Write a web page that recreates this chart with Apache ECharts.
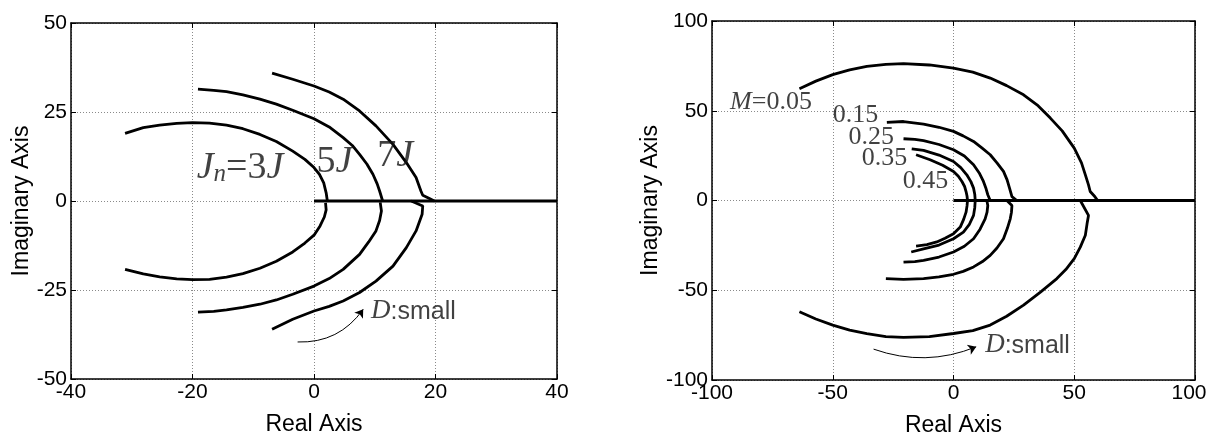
<!DOCTYPE html>
<html>
<head>
<meta charset="utf-8">
<title>Root locus</title>
<script src="https://cdn.jsdelivr.net/npm/echarts/dist/echarts.min.js"></script>
<style>
  html, body { margin: 0; padding: 0; background: #fff; }
  #main { width: 1208px; height: 432px; }
</style>
</head>
<body>
<div id="main"></div>
<script>
// left panel: loci for Jn = 3J, 5J, 7J  [real, imag]
var j3Upper = [[-31.1,19.0],[-28.1,20.6],[-25.4,21.3],[-22.6,21.8],[-20.0,22.0],[-17.2,21.9],[-14.4,21.3],[-11.7,20.3],[-8.9,18.7],[-6.2,16.7],[-3.5,14.0],[-1.5,11.7],[0,9.4],[0.9,7.5],[1.6,5.1],[2.0,2.3],[2.2,0]];
var j3Lower = [[1.9,-0.5],[2.0,-2.5],[1.7,-4.5],[1.0,-7.0],[0,-9.6],[-1.5,-11.8],[-3.5,-14.3],[-6.2,-16.9],[-8.9,-18.9],[-11.7,-20.4],[-14.4,-21.4],[-17.2,-22.0],[-20.0,-22.1],[-22.6,-21.9],[-25.4,-21.3],[-28.1,-20.5],[-31.1,-19.2]];
var j5Upper = [[-19.1,31.4],[-16.5,31.1],[-14.4,30.7],[-11.7,29.8],[-8.9,28.6],[-6.2,27.2],[-3.5,25.5],[0,23.1],[2.5,20.8],[4.8,17.8],[6.3,15.6],[7.5,13.1],[8.7,10.4],[9.7,7.5],[10.4,4.8],[10.8,2.8],[11.3,0]];
var j5Lower = [[10.9,-0.4],[11.1,-2.8],[10.8,-5.5],[10.2,-8.4],[9.0,-11.5],[7.5,-15.0],[4.8,-19.2],[2.5,-21.8],[0,-23.9],[-3.5,-26.2],[-6.2,-27.8],[-8.9,-29.0],[-11.7,-29.9],[-14.4,-30.6],[-16.5,-31.0],[-19.1,-31.2]];
var j7Upper = [[-6.9,35.9],[-3.5,34.2],[0,32.3],[2.5,30.6],[4.8,28.6],[7.5,25.3],[10.2,21.1],[13.0,15.9],[15.2,10.8],[16.8,6.6],[17.6,2.8],[17.9,1.6],[19.0,0.7],[19.8,0]];
var j7Lower = [[16.0,0],[17.9,-1.4],[17.8,-3.7],[16.8,-8.4],[15.2,-13.1],[13.0,-18.3],[10.2,-22.5],[7.5,-25.7],[4.8,-28.1],[2.5,-29.6],[0,-30.9],[-3.5,-33.2],[-6.9,-36.0]];
var realAxisLeft = [[0,0],[40,0]];

// right panel: loci for M = 0.05 ... 0.45
var m05Upper = [[-63.8,62.3],[-57,66.5],[-50,70.1],[-43,72.8],[-35.9,74.7],[-28,75.8],[-20.7,76.2],[-10,75.5],[0,73.8],[8,71.5],[15.2,68.2],[22,64],[29,58.9],[35,52.8],[40.1,45.9],[45,38.8],[50,29.2],[53,21],[54.6,14.3],[55.9,8.7],[56.6,5.0],[58.5,2.2],[59.7,0]];
var m05Lower = [[52.5,0],[55.9,-8.3],[55.3,-13],[54.6,-19.4],[52.5,-26],[50,-32.4],[46.5,-38.5],[42.8,-43.5],[36,-51],[29,-58.3],[22,-64.5],[15.2,-69.4],[8,-72.5],[0,-74.1],[-10,-75.8],[-20.7,-76.3],[-28,-75.8],[-35.9,-74.1],[-43,-72.2],[-50,-69.4],[-57,-66],[-63.8,-62.0]];
var m15Upper = [[-27.6,43.5],[-20.7,44.0],[-12.4,42.6],[-6,40.8],[0,38.5],[4,36.0],[8.3,32.9],[12,29],[15.2,25.5],[18,21],[20.7,16.2],[22.2,11.5],[23.2,6.9],[24.2,2.2],[26.2,0]];
var m15Lower = [[22.1,0],[24.2,-2.8],[24.0,-6.5],[23.5,-10.2],[22.3,-15.5],[20.7,-21.3],[18,-26.5],[15.2,-30.6],[12,-34],[8.3,-37.0],[4,-39.5],[0,-41.1],[-6,-42.6],[-12.4,-43.5],[-20.7,-43.9],[-28.0,-43.5]];
var m25Upper = [[-20.7,34.4],[-16,34.0],[-12.4,33.3],[-6,31.2],[0,28.3],[4.5,24.8],[8.3,19.9],[10.8,15],[12.4,10.6],[13.5,6.5],[14.2,3.2],[15.2,0]];
var m25Lower = [[13.8,0],[14.2,-2.8],[13.9,-6.5],[13.1,-10.2],[11,-16],[8.3,-21.3],[4.5,-25.5],[0,-28.7],[-6,-31.5],[-12.4,-33.3],[-16,-34.0],[-20.7,-34.3]];
var m35Upper = [[-17.3,28.8],[-12.4,27.9],[-6,25.3],[0,21.7],[3,18.3],[5.5,14.3],[7.2,10.5],[8.3,6.9],[8.8,3.5],[9.0,0]];
var m35Lower = [[9.0,0],[8.8,-4],[8.3,-8.3],[6.5,-13.5],[4.1,-17.6],[0,-21.3],[-6,-24.8],[-12.4,-26.9],[-17.5,-28.7]];
var m45Upper = [[-15.5,25.5],[-9.7,22.7],[-4.5,19.6],[0,16.2],[2,13.5],[3.5,10.6],[4.6,7.8],[5.2,5.0],[5.6,2.5],[5.8,0]];
var m45Lower = [[5.8,0],[5.6,-3],[5.2,-6.5],[4.2,-10.5],[2.8,-14.8],[0,-18.5],[-3.5,-21],[-6.9,-23.1],[-11,-24.6],[-15.5,-25.4]];
var realAxisRight = [[0,0],[100,0]];

// annotation anchors (left edge, vertical middle of the text)
var leftLabelPos = [[-19.3,9.4],[0.4,11.0],[10.4,12.6],[9.4,-30.8]];
var rightLabelPos = [[-92.5,54.6],[-50,47.4],[-43.5,35.2],[-38,23.8],[-21,10.8],[13.1,-80.5]];
var rightLabelText = ['0.15','0.25','0.35','0.45'];
// "D: small" arrows, from -> to
var leftArrow = [[-2.7,-39.6],[8.1,-30.4]];
var rightArrow = [[-33.1,-82.8],[9.4,-81.5]];

var sans = 'Liberation Sans';
var serif = 'Liberation Serif';

function bottomAxis(idx, min, max, step, named) {
  return {
    gridIndex: idx, type: 'value', position: 'bottom', min: min, max: max, interval: step,
    name: named ? 'Real Axis' : '', nameLocation: 'middle', nameGap: 34,
    nameTextStyle: { fontFamily: sans, fontSize: 23, color: '#000' },
    axisLine: { onZero: false, lineStyle: { color: '#000', width: 1.5 } },
    axisTick: { inside: true, length: 5, lineStyle: { color: '#000' } },
    axisLabel: { show: named, fontFamily: sans, fontSize: 21, color: '#000', margin: 3 },
    splitLine: { show: named, lineStyle: { color: '#8a8a8a', type: [1, 2], width: 1 } }
  };
}
function leftAxis(idx, min, max, step, named) {
  return {
    gridIndex: idx, type: 'value', position: named ? 'left' : 'right', min: min, max: max, interval: step,
    name: named ? 'Imaginary Axis' : '', nameLocation: 'middle', nameGap: 38,
    nameTextStyle: { fontFamily: sans, fontSize: 23, color: '#000' },
    axisLine: { onZero: false, lineStyle: { color: '#000', width: 1.5 } },
    axisTick: { inside: true, length: 5, lineStyle: { color: '#000' } },
    axisLabel: { show: named, fontFamily: sans, fontSize: 21, color: '#000', margin: 4 },
    splitLine: { show: named, lineStyle: { color: '#8a8a8a', type: [1, 2], width: 1 } }
  };
}
function topAxis(idx, min, max, step) {
  var a = bottomAxis(idx, min, max, step, false);
  a.position = 'top';
  return a;
}

function curve(data, axis, width) {
  return {
    type: 'line', data: data, xAxisIndex: axis, yAxisIndex: axis,
    showSymbol: false, symbol: 'none', smooth: false, silent: true, z: 3,
    lineStyle: { color: '#000', width: width || 2.8 }
  };
}

function arrow(seg, axis, curveness) {
  return {
    type: 'lines', coordinateSystem: 'cartesian2d', xAxisIndex: axis, yAxisIndex: axis,
    silent: true, z: 3, symbol: ['none', 'arrow'], symbolSize: 8,
    lineStyle: { color: '#000', width: 1, opacity: 1, curveness: curveness },
    data: [{ coords: seg }]
  };
}

function textMark(pos, axis, fmt, rich) {
  return {
    type: 'scatter', xAxisIndex: axis, yAxisIndex: axis, symbolSize: 0, silent: true, z: 4,
    data: [pos],
    label: { show: true, position: 'right', distance: 0, formatter: fmt, rich: rich, color: '#111' }
  };
}

var bigRich = {
  i: { fontFamily: serif, fontStyle: 'italic', fontSize: 38, color: '#111', verticalAlign: 'bottom' },
  r: { fontFamily: serif, fontSize: 38, color: '#111', verticalAlign: 'bottom' },
  s: { fontFamily: serif, fontStyle: 'italic', fontSize: 25, color: '#111', verticalAlign: 'bottom' }
};
var midRich = {
  i: { fontFamily: serif, fontStyle: 'italic', fontSize: 26, color: '#111', verticalAlign: 'bottom' },
  r: { fontFamily: serif, fontSize: 26, color: '#111', verticalAlign: 'bottom' }
};
var dRich = {
  i: { fontFamily: serif, fontStyle: 'italic', fontSize: 27, color: '#111', verticalAlign: 'bottom' },
  a: { fontFamily: sans, fontSize: 25, color: '#111', verticalAlign: 'bottom' }
};

var series = [
  curve(j3Upper, 0), curve(j3Lower, 0),
  curve(j5Upper, 0), curve(j5Lower, 0),
  curve(j7Upper, 0), curve(j7Lower, 0),
  curve(realAxisLeft, 0, 3),
  arrow(leftArrow, 0, -0.27),
  curve(m05Upper, 2), curve(m05Lower, 2),
  curve(m15Upper, 2), curve(m15Lower, 2),
  curve(m25Upper, 2), curve(m25Lower, 2),
  curve(m35Upper, 2), curve(m35Lower, 2),
  curve(m45Upper, 2), curve(m45Lower, 2),
  curve(realAxisRight, 2, 3),
  arrow(rightArrow, 2, -0.19),
  textMark(leftLabelPos[0], 0, '{i|J}{s|n}{r|=3}{i|J}', bigRich),
  textMark(leftLabelPos[1], 0, '{r|5}{i|J}', bigRich),
  textMark(leftLabelPos[2], 0, '{r|7}{i|J}', bigRich),
  textMark(leftLabelPos[3], 0, '{i|D}{a|:small}', dRich),
  textMark(rightLabelPos[0], 2, '{i|M}{r|=0.05}', midRich),
  textMark(rightLabelPos[5], 2, '{i|D}{a|:small}', dRich)
];
for (var k = 0; k < rightLabelText.length; k++) {
  series.push(textMark(rightLabelPos[k + 1], 2, '{r|' + rightLabelText[k] + '}', midRich));
}

// right real axis: nudge the last tick label inwards so it stays on the page
var rightReal = bottomAxis(1, -100, 100, 50, true);
rightReal.axisLabel.formatter = function (v) { return v === 100 ? '{m|100}' : String(v); };
rightReal.axisLabel.rich = { m: { fontFamily: sans, fontSize: 21, color: '#000', padding: [0, 12, 0, 0] } };

var chart = echarts.init(document.getElementById('main'));
chart.setOption({
  animation: false,
  backgroundColor: '#fff',
  grid: [
    { left: 71, top: 23, width: 486, height: 356, containLabel: false, outerBoundsMode: 'none' },
    { left: 712, top: 21, width: 483, height: 359, containLabel: false, outerBoundsMode: 'none' }
  ],
  xAxis: [
    bottomAxis(0, -40, 40, 20, true), topAxis(0, -40, 40, 20),
    rightReal, topAxis(1, -100, 100, 50)
  ],
  yAxis: [
    leftAxis(0, -50, 50, 25, true), leftAxis(0, -50, 50, 25, false),
    leftAxis(1, -100, 100, 50, true), leftAxis(1, -100, 100, 50, false)
  ],
  series: series
});
</script>
</body>
</html>
